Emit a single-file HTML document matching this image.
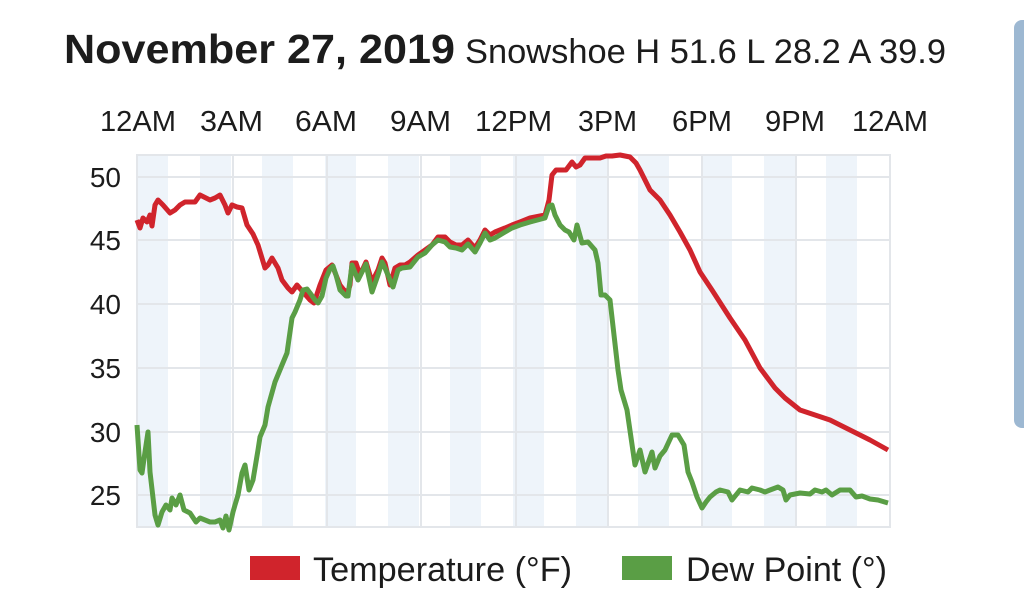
<!DOCTYPE html>
<html><head><meta charset="utf-8"><style>
html,body{margin:0;padding:0;background:#fff;width:1024px;height:590px;overflow:hidden}
svg{display:block}
text{font-family:"Liberation Sans",sans-serif;fill:#1c1c1c}
</style></head><body>
<svg width="1024" height="590" viewBox="0 0 1024 590" xmlns="http://www.w3.org/2000/svg">
<rect x="1014" y="20" width="20" height="408" rx="8" fill="#9db8d2"/>
<text x="64" y="63" font-size="41" font-weight="bold" textLength="391" lengthAdjust="spacingAndGlyphs">November 27, 2019</text>
<text x="465" y="63" font-size="34" textLength="481" lengthAdjust="spacingAndGlyphs">Snowshoe H 51.6 L 28.2 A 39.9</text>
<g font-size="29">
<text x="100" y="131" textLength="76" lengthAdjust="spacingAndGlyphs">12AM</text>
<text x="200" y="131" textLength="63" lengthAdjust="spacingAndGlyphs">3AM</text>
<text x="295" y="131" textLength="62" lengthAdjust="spacingAndGlyphs">6AM</text>
<text x="390" y="131" textLength="61" lengthAdjust="spacingAndGlyphs">9AM</text>
<text x="475" y="131" textLength="77" lengthAdjust="spacingAndGlyphs">12PM</text>
<text x="578" y="131" textLength="59" lengthAdjust="spacingAndGlyphs">3PM</text>
<text x="672" y="131" textLength="60" lengthAdjust="spacingAndGlyphs">6PM</text>
<text x="765" y="131" textLength="60" lengthAdjust="spacingAndGlyphs">9PM</text>
<text x="852" y="131" textLength="76" lengthAdjust="spacingAndGlyphs">12AM</text>
</g>
<g fill="#eef4fa">
<rect x="137" y="155" width="31" height="372"/><rect x="200" y="155" width="31" height="372"/>
<rect x="262" y="155" width="31" height="372"/><rect x="325" y="155" width="31" height="372"/>
<rect x="388" y="155" width="31" height="372"/><rect x="450" y="155" width="31" height="372"/>
<rect x="513" y="155" width="31" height="372"/><rect x="576" y="155" width="31" height="372"/>
<rect x="638" y="155" width="31" height="372"/><rect x="701" y="155" width="31" height="372"/>
<rect x="764" y="155" width="31" height="372"/><rect x="826" y="155" width="31" height="372"/>
</g>
<g stroke="#e3e6ea" stroke-width="2" fill="none">
<rect x="137" y="155" width="753" height="372"/>
<line x1="137" y1="177" x2="890" y2="177"/><line x1="137" y1="240" x2="890" y2="240"/>
<line x1="137" y1="304" x2="890" y2="304"/><line x1="137" y1="368" x2="890" y2="368"/>
<line x1="137" y1="432" x2="890" y2="432"/><line x1="137" y1="495" x2="890" y2="495"/>
<line x1="233" y1="155" x2="233" y2="527"/><line x1="327" y1="155" x2="327" y2="527"/>
<line x1="421" y1="155" x2="421" y2="527"/><line x1="516" y1="155" x2="516" y2="527"/>
<line x1="608" y1="155" x2="608" y2="527"/><line x1="702" y1="155" x2="702" y2="527"/>
<line x1="796" y1="155" x2="796" y2="527"/>
</g>
<g font-size="28" text-anchor="end">
<text x="121" y="187">50</text><text x="121" y="250">45</text><text x="121" y="314">40</text>
<text x="121" y="378">35</text><text x="121" y="442">30</text><text x="121" y="505">25</text>
</g>
<polyline fill="none" stroke="#d0242c" stroke-width="5" stroke-linejoin="round" points="137,220 140,228 143,218 147,222 150,215 152,226 155,205 158,200 163,205 170,213 175,210 180,205 185,202 195,202 200,195 210,200 215,198 220,195 225,205 228,213 232,205 237,207 242,208 247,225 253,234 258,245 265,268 268,265 272,258 278,268 282,280 288,288 292,292 297,285 303,292 310,300 314,303 320,285 326,270 332,265 336,275 340,285 344,290 348,292 350,285 352,263 356,263 360,275 366,262 372,282 378,270 382,258 385,263 390,285 395,268 400,265 405,265 410,262 418,255 425,250 432,245 438,237 445,237 450,242 456,245 462,245 468,240 475,248 480,240 485,230 490,235 495,232 500,230 505,228 512,225 520,222 530,218 545,215 549,200 552,175 556,170 566,170 572,162 576,167 580,165 585,158 600,158 606,156 612,156 620,155 630,157 636,163 640,170 645,180 650,190 660,200 670,215 680,232 690,250 700,272 712,290 730,318 745,340 760,368 775,388 785,398 800,410 815,415 830,420 850,430 870,440 888,450"/>
<polyline fill="none" stroke="#5a9e45" stroke-width="5" stroke-linejoin="round" points="137,425 140,470 142,473 145,452 148,432 150,472 155,515 158,525 162,512 166,505 170,510 172,498 176,505 180,495 184,510 190,513 196,522 200,518 205,520 210,522 215,522 220,520 223,528 226,516 229,530 233,512 235,505 238,495 242,473 245,465 249,490 253,480 258,450 260,437 265,425 268,407 275,382 282,365 287,353 292,318 295,312 300,300 303,290 307,289 310,293 315,300 318,303 322,296 326,278 330,269 333,266 336,275 340,290 346,296 348,296 352,265 354,270 358,280 366,264 372,292 378,275 382,262 385,268 393,287 398,270 402,268 410,267 418,257 425,253 432,245 438,240 445,242 450,247 456,248 462,250 468,244 475,252 480,243 485,233 490,240 495,238 500,235 505,232 512,228 520,225 530,222 545,218 549,206 552,205 555,215 560,225 565,230 569,232 574,240 577,225 582,243 588,242 595,250 598,263 601,295 605,295 610,300 614,335 618,370 621,390 627,410 635,465 640,450 645,472 652,452 655,468 660,456 665,450 672,435 676,435 678,435 684,445 688,472 692,482 697,497 702,508 706,502 710,497 716,492 720,490 728,492 732,500 740,490 748,492 752,488 760,490 765,492 770,490 778,487 783,490 786,500 790,495 800,493 810,494 815,490 822,492 826,490 832,495 840,490 850,490 856,497 862,496 870,499 878,500 888,503"/>
<rect x="250" y="556" width="50" height="24" fill="#d0242c"/>
<text x="313" y="581" font-size="34" textLength="259" lengthAdjust="spacingAndGlyphs">Temperature (°F)</text>
<rect x="622" y="556" width="50" height="24" fill="#5a9e45"/>
<text x="686" y="581" font-size="34" textLength="201" lengthAdjust="spacingAndGlyphs">Dew Point (°)</text>
</svg>
</body></html>
